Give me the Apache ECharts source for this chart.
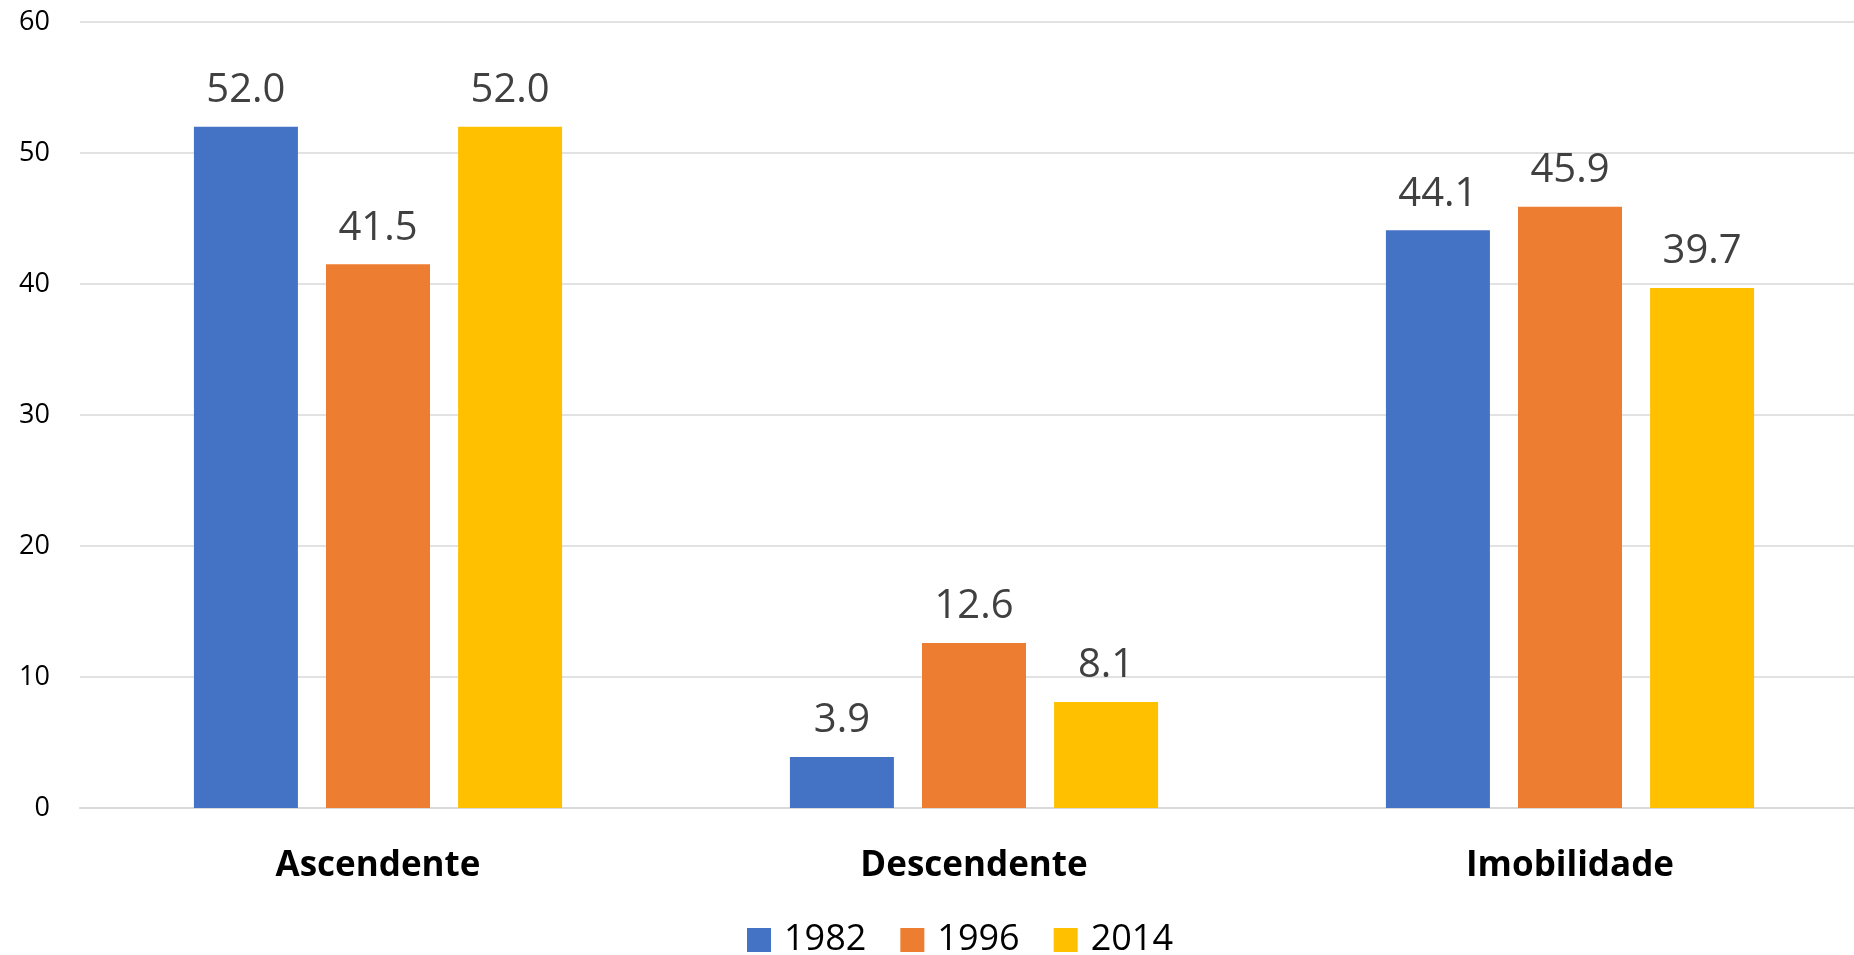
<!DOCTYPE html>
<html>
  <head>
    <meta charset="utf-8" />
    <title>Mobilidade</title>
    <script src="https://cdn.jsdelivr.net/npm/echarts@6/dist/echarts.min.js"></script>
    <style>
      html, body { margin: 0; padding: 0; background: #fff; }
      #box { width: 1854px; height: 955px; }
    </style>
  </head>
  <body>
    <div id="box"></div>
    <script>
      // dados
      var categorias = ['Ascendente', 'Descendente', 'Imobilidade'];
      var anos = ['1982', '1996', '2014'];
      var v1982 = [52.0, 3.9, 44.1];
      var v1996 = [41.5, 12.6, 45.9];
      var v2014 = [52.0, 8.1, 39.7];
      var cores = ['#4472C4', '#ED7D31', '#FFC000'];

      var fonte = '"Open Sans", "Noto Sans", sans-serif';

      function serie(nome, valores, cor) {
        return {
          name: nome,
          type: 'bar',
          data: valores,
          barWidth: 104,
          barGap: '27%',
          itemStyle: { color: cor },
          label: {
            show: true,
            position: 'top',
            distance: 16,
            color: '#404040',
            fontFamily: fonte,
            fontSize: 40,
            formatter: function (p) { return p.value.toFixed(1); }
          }
        };
      }

      var chart = echarts.init(document.getElementById('box'));
      var option = {
        animation: false,
        color: cores,
        // a área do gráfico passa um pouco da borda direita, como no original
        grid: { left: 80, width: 1788, top: 22, bottom: 147, outerBoundsMode: 'none' },
        legend: {
          data: anos,
          left: 742,
          top: 917,
          icon: 'rect',
          itemWidth: 24,
          itemHeight: 24,
          itemGap: 34,
          textStyle: { color: '#000', fontFamily: fonte, fontSize: 36, padding: [0, 0, 0, 8] }
        },
        xAxis: {
          type: 'category',
          data: categorias,
          axisTick: { show: false },
          axisLine: { lineStyle: { color: '#d9d9d9', width: 2 } },
          axisLabel: {
            color: '#000',
            fontFamily: fonte,
            fontWeight: 'bold',
            fontSize: 35,
            margin: 41
          }
        },
        yAxis: {
          type: 'value',
          min: 0,
          max: 60,
          interval: 10,
          axisLine: { show: false },
          axisTick: { show: false },
          splitLine: { lineStyle: { color: '#d9d9d9', width: 1.5 } },
          axisLabel: { color: '#000', fontFamily: fonte, fontSize: 27, margin: 30 }
        },
        series: [
          serie(anos[0], v1982, cores[0]),
          serie(anos[1], v1996, cores[1]),
          serie(anos[2], v2014, cores[2])
        ]
      };
      chart.setOption(option);
    </script>
  </body>
</html>
